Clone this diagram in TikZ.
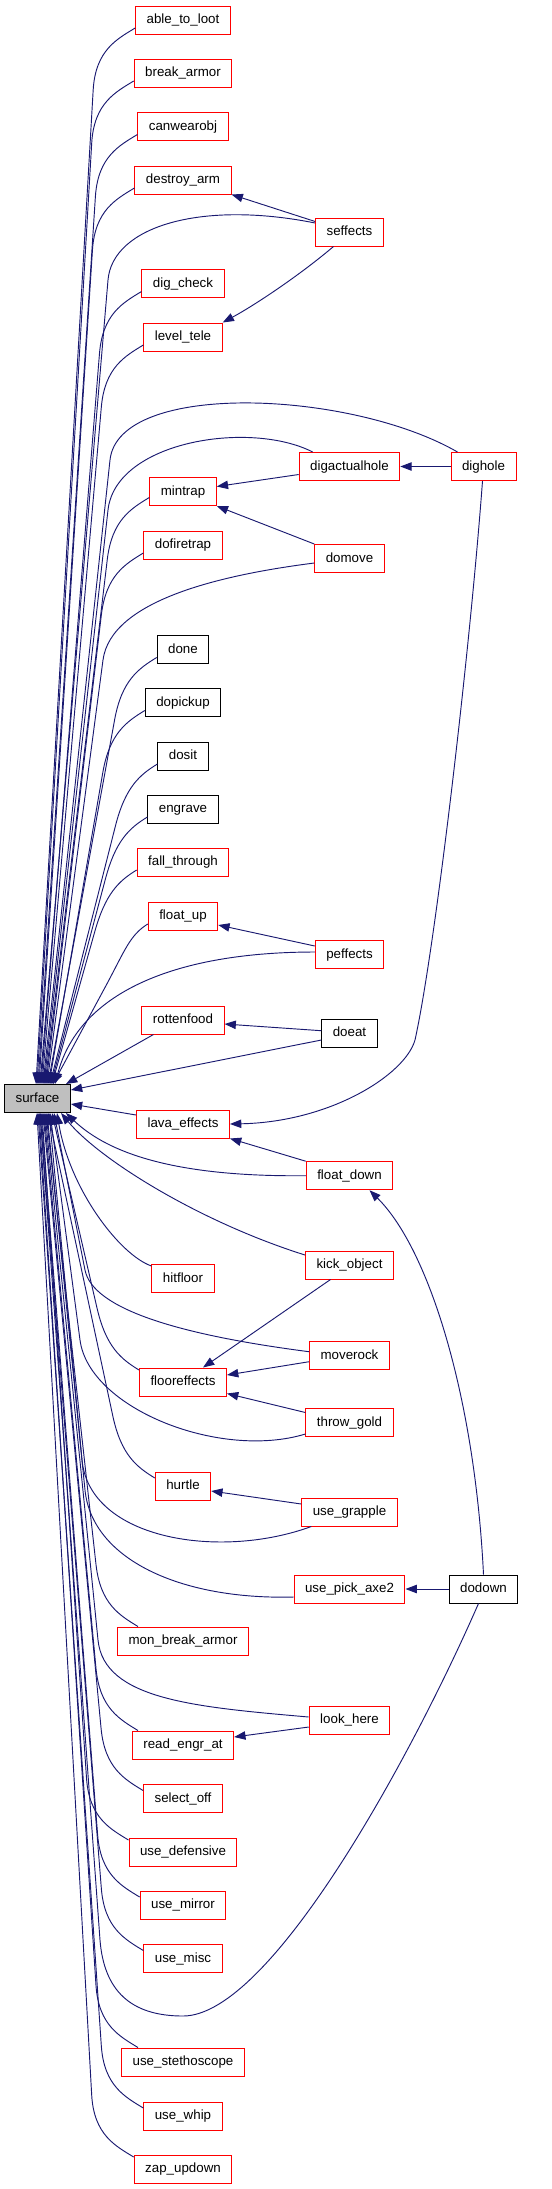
\documentclass[tikz,border=0pt]{standalone}
\usepackage{fontspec}
\setmainfont{Liberation Sans}
\usetikzlibrary{calc,arrows.meta}
\definecolor{edgecol}{HTML}{191970}
\definecolor{nodered}{HTML}{FF0000}
\definecolor{surfgray}{HTML}{BFBFBF}
% edge from a left-column node above the surface node
\newcommand\edgeA[2]{%
  \coordinate (p0) at #1;
  \coordinate (pk) at ($(p0)+(-42,62)$);
  \coordinate (pe) at (surface.north -| #2,0);
  \draw[calls] (p0) .. controls ($(p0)+(-18,11)$) and ($(pk)!-30pt!(pe)$) .. (pk) -- (pe);
}
% edge from a left-column node below the surface node
\newcommand\edgeB[2]{%
  \coordinate (p0) at #1;
  \coordinate (pk) at ($(p0)+(-42,-62)$);
  \coordinate (pe) at (surface.south -| #2,0);
  \draw[calls] (p0) .. controls ($(p0)+(-18,-11)$) and ($(pk)!-30pt!(pe)$) .. (pk) -- (pe);
}
% curve, then straight run: start, first control, knee, distance, end
\newcommand\kedge[5]{%
  \coordinate (kk) at #3;
  \coordinate (ke) at #5;
  \draw[calls] #1 .. controls #2 and ($(kk)!-#4!(ke)$) .. (kk) -- (ke);
}
\begin{document}
\begin{tikzpicture}[x=0.75pt,y=-0.75pt,
  fn/.style={draw=nodered, fill=white, line width=0.75pt, font=\fontsize{10}{12}\selectfont,
    inner xsep=8.25pt, inner ysep=0pt, minimum height=21pt, text height=7.5pt, text depth=2.2pt},
  bn/.style={fn, draw=black},
  calls/.style={draw=edgecol, line width=0.7pt, -{Triangle[length=8.5pt,width=6.3pt]}}]
\useasboundingbox (0,0) rectangle (552,2189);

% ---------- nodes ----------
\node[fn] (abletoloot) at (183,20) {able\_to\_loot};
\node[fn] (breakarmor) at (183,73) {break\_armor};
\node[fn] (canwearobj) at (183,126.5) {canwearobj};
\node[fn] (destroyarm) at (183,180) {destroy\_arm};
\node[fn] (seffects) at (349.5,232) {seffects};
\node[fn] (digcheck) at (183,283.5) {dig\_check};
\node[fn] (leveltele) at (183,337) {level\_tele};
\node[fn] (digactualhole) at (349.5,466.5) {digactualhole};
\node[fn] (dighole) at (483.5,466.5) {dighole};
\node[fn] (mintrap) at (183,491.5) {mintrap};
\node[fn] (dofiretrap) at (183,545) {dofiretrap};
\node[fn] (domove) at (349.5,558.5) {domove};
\node[bn] (done) at (183,649.5) {done};
\node[bn] (dopickup) at (183,702.5) {dopickup};
\node[bn] (dosit) at (183,756) {dosit};
\node[bn] (engrave) at (183,809) {engrave};
\node[fn] (fallthrough) at (183,862) {fall\_through};
\node[fn] (floatup) at (183,916) {float\_up};
\node[fn] (peffects) at (349.5,954.7) {peffects};
\node[fn] (rottenfood) at (183,1020) {rottenfood};
\node[bn] (doeat) at (349.5,1033) {doeat};
\node[bn, fill=surfgray] (surface) at (37.5,1098.5) {surface};
\node[fn] (lavaeffects) at (183,1124) {lava\_effects};
\node[fn] (floatdown) at (349.5,1175.7) {float\_down};
\node[fn] (kickobject) at (349.5,1265) {kick\_object};
\node[fn] (hitfloor) at (183,1278.5) {hitfloor};
\node[fn] (moverock) at (349.5,1355.7) {moverock};
\node[fn] (flooreffects) at (183,1382) {flooreffects};
\node[fn] (throwgold) at (349.5,1422.5) {throw\_gold};
\node[fn] (hurtle) at (183,1486) {hurtle};
\node[fn] (usegrapple) at (349.5,1512) {use\_grapple};
\node[fn] (usepickaxe) at (349.5,1589) {use\_pick\_axe2};
\node[bn] (dodown) at (483.5,1589) {dodown};
\node[fn] (monbreakarmor) at (183,1641) {mon\_break\_armor};
\node[fn] (lookhere) at (349.5,1720) {look\_here};
\node[fn] (readengrat) at (183,1745) {read\_engr\_at};
\node[fn] (selectoff) at (183,1798.5) {select\_off};
\node[fn] (usedefensive) at (183,1852) {use\_defensive};
\node[fn] (usemirror) at (183,1905) {use\_mirror};
\node[fn] (usemisc) at (183,1958.5) {use\_misc};
\node[fn] (usestethoscope) at (183,2062) {use\_stethoscope};
\node[fn] (usewhip) at (183,2116) {use\_whip};
\node[fn] (zapupdown) at (183,2169) {zap\_updown};

% ---------- edges into surface from above ----------
\edgeA{($(abletoloot.west)+(0,8)$)}{36}
\edgeA{($(breakarmor.west)+(0,8)$)}{37}
\edgeA{($(canwearobj.west)+(0,8)$)}{38}
\edgeA{($(destroyarm.west)+(0,8)$)}{39}
\edgeA{($(digcheck.west)+(0,8)$)}{41}
\edgeA{($(leveltele.west)+(0,8)$)}{42}
\edgeA{($(mintrap.west)+(0,6)$)}{45}
\edgeA{($(dofiretrap.west)+(0,8)$)}{46}
\edgeA{($(done.west)+(0,8)$)}{48}
\edgeA{($(dopickup.west)+(0,8)$)}{49}
\edgeA{($(dosit.west)+(0,8)$)}{50}
\edgeA{($(engrave.west)+(0,8)$)}{51}
\edgeA{($(fallthrough.west)+(0,8)$)}{52}
\edgeA{($(floatup.west)+(0,8)$)}{53}

\kedge{($(seffects.west)+(0,-9)$)}{(200,200)}{(108,280)}{40pt}{(surface.north -| 40,0)}
\kedge{($(dighole.north)+(-26,0)$)}{(350,390)}{(110,460)}{60pt}{(surface.north -| 43,0)}
\kedge{($(digactualhole.north west)+(14,0)$)}{(250,420)}{(108,510)}{52pt}{(surface.north -| 44,0)}
\kedge{($(domove.west)+(0,4.5)$)}{(220,575)}{(103,660)}{45pt}{(surface.north -| 47,0)}
\draw[calls] ($(peffects.west)+(0,-2.7)$) .. controls (180,952) and (80,990) .. (surface.north -| 55,0);
\draw[calls] ($(rottenfood.south west)+(12,0)$) -- (surface.north -| 66,0);
\draw[calls] ($(doeat.west)+(0,7)$) -- (surface.east |- 0,1090);
\draw[calls] ($(lavaeffects.west)+(0,-9)$) -- (surface.east |- 0,1104);

% ---------- edges between callers ----------
\draw[calls] ($(seffects.north west)+(0,4)$) -- (destroyarm.south east);
\draw[calls] ($(seffects.south)+(-16,0)$) .. controls (300,275) and (255,305) .. (leveltele.north east);
\draw[calls] (dighole.west) -- (digactualhole.east);
\draw[calls] ($(digactualhole.west)+(0,8)$) -- ($(mintrap.east)+(0,-5)$);
\draw[calls] (domove.north west) -- (mintrap.south east);
\draw[calls] ($(peffects.west)+(0,-8.7)$) -- ($(floatup.east)+(0,9)$);
\draw[calls] ($(doeat.west)+(0,-2.3)$) -- ($(rottenfood.east)+(0,4)$);
\draw[calls] ($(dighole.south)+(-1,0)$) .. controls (470,650) and (435,950) .. (415,1040)
  .. controls (405,1075) and (330,1122) .. (lavaeffects.east);
\draw[calls] (floatdown.north west) -- (lavaeffects.south east);
\draw[calls] (dodown.north) .. controls (475,1400) and (430,1250) .. ($(floatdown.south)+(20,0)$);
\draw[calls] ($(kickobject.south)+(-19,0)$) -- ($(flooreffects.north)+(20,0)$);
\draw[calls] ($(moverock.west)+(0,6)$) -- ($(flooreffects.east)+(0,-7)$);
\draw[calls] ($(throwgold.west)+(0,-10)$) -- ($(flooreffects.south east)+(0,-3)$);
\draw[calls] ($(usegrapple.west)+(0,-8)$) -- ($(hurtle.east)+(0,5)$);
\draw[calls] (dodown.west) -- (usepickaxe.east);
\draw[calls] ($(lookhere.west)+(0,7)$) -- ($(readengrat.east)+(0,-8)$);

% ---------- edges into surface from below ----------
\draw[calls] (floatdown.west) .. controls (180,1177) and (110,1155) .. (surface.south -| 66,0);
\draw[calls] ($(kickobject.west)+(0,-10)$) .. controls (200,1222) and (100,1160) .. (surface.south -| 61,0);
\draw[calls] ($(hitfloor.north west)+(0,2)$) .. controls (120,1255) and (70,1190) .. (surface.south -| 57,0);
\kedge{($(moverock.west)+(0,-4)$)}{(180,1335)}{(85,1270)}{30pt}{(surface.south -| 54,0)}
\edgeB{($(flooreffects.west)+(0,-12)$)}{52}
\kedge{($(throwgold.west)+(0,11.5)$)}{(220,1460)}{(80,1340)}{52pt}{(surface.south -| 50,0)}
\edgeB{($(hurtle.west)+(0,-8)$)}{48}
\kedge{($(usegrapple.south west)+(10,0)$)}{(220,1560)}{(82,1460)}{60pt}{(surface.south -| 49,0)}
\kedge{($(usepickaxe.west)+(0,8)$)}{(180,1600)}{(85,1490)}{52pt}{(surface.south -| 47,0)}
\edgeB{(monbreakarmor.north -| 138,0)}{46}
\kedge{($(lookhere.west)+(0,-3)$)}{(195,1707)}{(98,1640)}{45pt}{(surface.south -| 45,0)}
\edgeB{(readengrat.north -| 138,0)}{44}
\edgeB{($(selectoff.west)+(0,-8)$)}{43}
\edgeB{($(usedefensive.west)+(0,-12)$)}{42}
\edgeB{($(usemirror.west)+(0,-8)$)}{41}
\edgeB{($(usemisc.west)+(0,-8)$)}{40}
\coordinate (dk) at (100,1940);
\coordinate (de) at (surface.south -| 40,0);
\draw[calls] ($(dodown.south)+(-5,0)$) .. controls (410,1760) and (270,2016) .. (183,2016)
  .. controls (130,2016) and (104,1990) .. (dk) -- (de);
\edgeB{(usestethoscope.north -| 138,0)}{39}
\edgeB{($(usewhip.west)+(0,-8)$)}{38}
\edgeB{($(zapupdown.west)+(0,-12)$)}{37}
\end{tikzpicture}
\end{document}
